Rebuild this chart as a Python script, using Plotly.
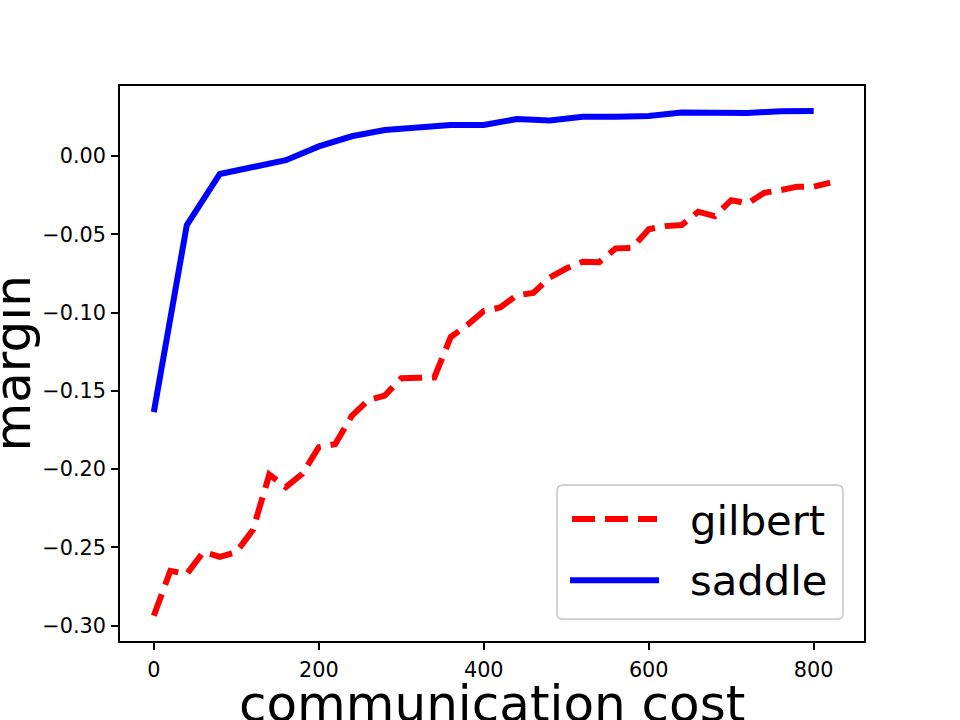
import plotly.graph_objects as go

cost_saddle = [0, 40, 80, 120, 160, 200, 240, 280, 320, 360, 400, 440, 480, 520,
               560, 600, 640, 680, 720, 760, 800]
margin_saddle = [-0.1636, -0.0441, -0.0115, -0.0075, -0.0027, 0.0061, 0.0126, 0.0166,
                 0.0186, 0.0198, 0.0198, 0.0236, 0.0226, 0.0250, 0.0250, 0.0256,
                 0.0277, 0.0273, 0.0275, 0.0286, 0.0287]

cost_gilbert = list(range(0, 821, 20))
margin_gilbert = [-0.2937, -0.2650, -0.2670, -0.2530, -0.2560, -0.2530, -0.2390, -0.2035,
                  -0.2115, -0.2030, -0.1860, -0.1840, -0.1660, -0.1560, -0.1530, -0.1420,
                  -0.1417, -0.1415, -0.1156, -0.1080, -0.0990, -0.0968, -0.0890, -0.0875,
                  -0.0776, -0.0719, -0.0676, -0.0678, -0.0590, -0.0587, -0.0468, -0.0448,
                  -0.0441, -0.0356, -0.0384, -0.0282, -0.0303, -0.0235, -0.0218, -0.0196,
                  -0.0196, -0.0170]

x_ticks = [0, 200, 400, 600, 800]
y_ticks = [-0.30, -0.25, -0.20, -0.15, -0.10, -0.05, 0.00]

series_names = ["gilbert", "saddle"]
series_colors = ["#ff0000", "#0000ff"]
series_dash = ["23px,10px", "solid"]

FONT = "DejaVu Sans"
W, H = 960, 720
ML, MR, MT, MB = 120, 96, 86.4, 79.2
PW, PH = W - ML - MR, H - MT - MB


def px(xp):
    return (xp - ML) / PW


def py(yp):
    return (H - MB - yp) / PH


fig = go.Figure()
fig.add_trace(go.Scatter(x=cost_gilbert, y=margin_gilbert, mode="lines", name=series_names[0],
                         line=dict(color=series_colors[0], width=6, dash=series_dash[0])))
fig.add_trace(go.Scatter(x=cost_saddle, y=margin_saddle, mode="lines", name=series_names[1],
                         line=dict(color=series_colors[1], width=6, dash=series_dash[1])))

axis_common = dict(showgrid=False, zeroline=False, showline=True, mirror=True,
                   linecolor="black", linewidth=1.7, ticks="outside", ticklen=7,
                   tickwidth=1.7, tickcolor="black",
                   tickfont=dict(family=FONT, size=20.8, color="black"))

fig.update_xaxes(range=[-41, 861], tickvals=x_ticks, ticklabelstandoff=2, **axis_common)
fig.update_yaxes(range=[-0.3098, 0.0447], tickvals=y_ticks, tickformat=".2f",
                 ticklabelstandoff=1, **axis_common)

fig.add_annotation(text="communication cost", xref="paper", yref="paper",
                   x=0.5, y=py(704), xanchor="center", yanchor="middle", showarrow=False,
                   font=dict(family=FONT, size=50, color="black"))
fig.add_annotation(text="margin", xref="paper", yref="paper",
                   x=px(12), y=0.5, xanchor="center", yanchor="middle", showarrow=False,
                   textangle=-90, font=dict(family=FONT, size=50, color="black"))

# legend drawn by hand (rounded frame, line samples, labels)
bx0, bx1, by0, by1, r = 557, 843, 485, 619, 6
rx, ry = r / PW, r / PH
X0, X1, Y0, Y1 = px(bx0), px(bx1), py(by1), py(by0)
path = (f"M {X0+rx},{Y0} L {X1-rx},{Y0} Q {X1},{Y0} {X1},{Y0+ry} "
        f"L {X1},{Y1-ry} Q {X1},{Y1} {X1-rx},{Y1} L {X0+rx},{Y1} "
        f"Q {X0},{Y1} {X0},{Y1-ry} L {X0},{Y0+ry} Q {X0},{Y0} {X0+rx},{Y0} Z")
fig.add_shape(type="path", path=path, xref="paper", yref="paper",
              fillcolor="rgba(255,255,255,0.8)", line=dict(color="#cccccc", width=1.7))

legend_rows = [(519, 572, 657, 520), (580, 570, 659, 580)]
for (ly, lx0, lx1, ty), name, col, dash in zip(legend_rows, series_names, series_colors,
                                                series_dash):
    fig.add_shape(type="line", xref="paper", yref="paper",
                  x0=px(lx0), x1=px(lx1), y0=py(ly), y1=py(ly),
                  line=dict(color=col, width=6, dash=dash))
    fig.add_annotation(text=name, xref="paper", yref="paper", x=px(688), y=py(ty),
                       xanchor="left", yanchor="middle", showarrow=False,
                       font=dict(family=FONT, size=41.7, color="black"))

fig.update_layout(
    width=W, height=H,
    margin=dict(l=ML, r=MR, t=MT, b=MB, autoexpand=False),
    paper_bgcolor="white", plot_bgcolor="white",
    showlegend=False,
)

fig.write_html("out.html")
